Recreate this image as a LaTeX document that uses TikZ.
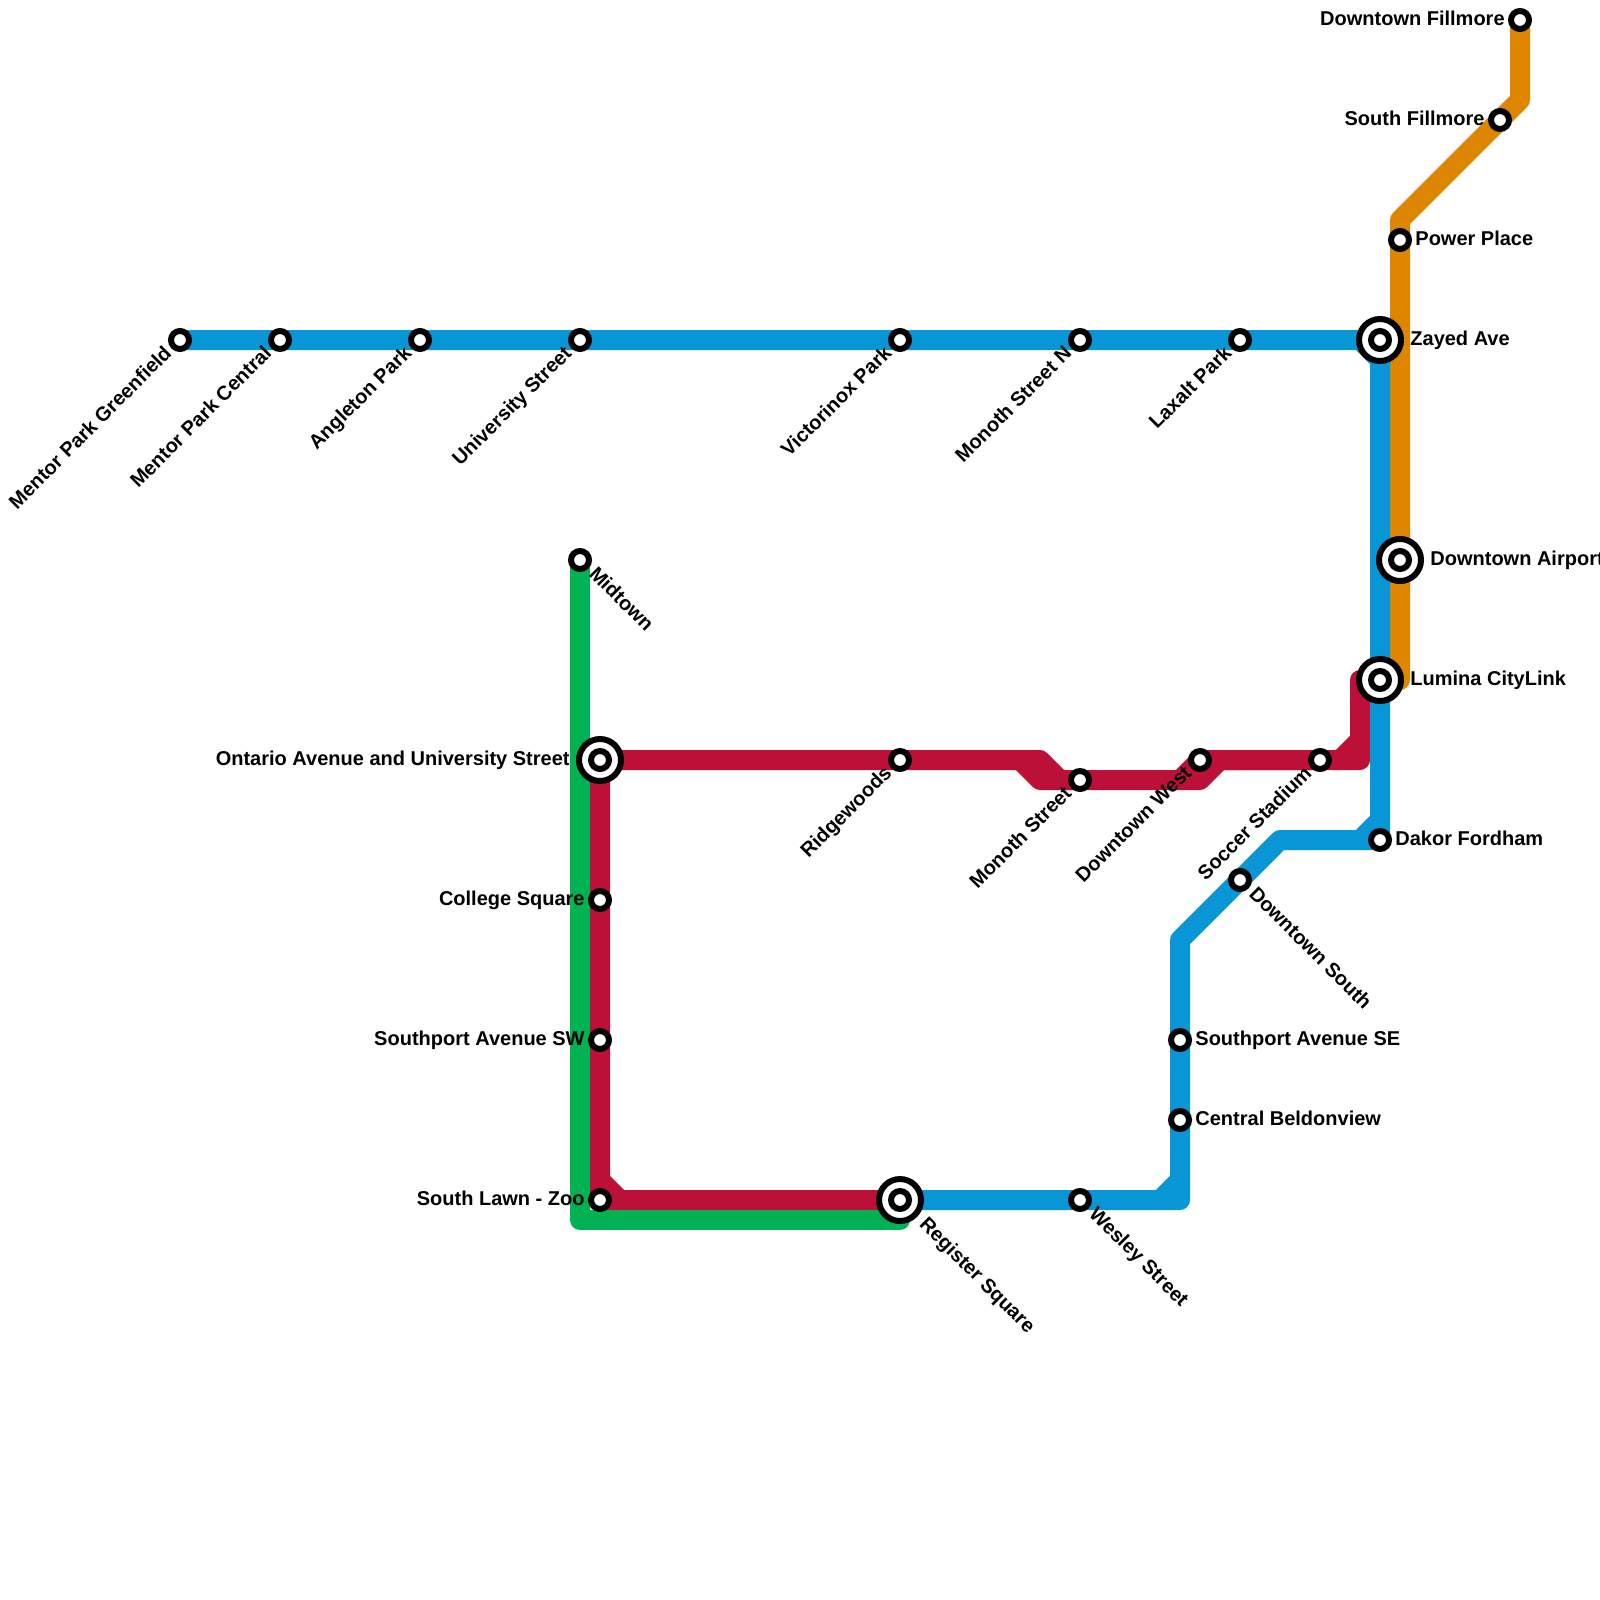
\documentclass[tikz,border=0pt]{standalone}
\usepackage{fontspec}
\setmainfont{Liberation Sans}
\usetikzlibrary{backgrounds}
\definecolor{lineblue}{HTML}{0896D7}
\definecolor{lineorange}{HTML}{DF8600}
\definecolor{linered}{HTML}{BD1038}
\definecolor{linegreen}{HTML}{00B251}
\begin{document}
\begin{tikzpicture}[
  x=0.5pt, y=-0.5pt,
  font=\fontsize{10}{12}\selectfont\bfseries,
  stn/.style={circle, draw, fill=white, line width=3pt, inner sep=0pt, minimum size=9pt},
  hub/.style={stn, minimum size=21pt,
    path picture={\draw[line width=3pt] (path picture bounding box.center) circle (4.5pt);}},
  route/.style={line width=10pt, line join=round, line cap=round},
  lblw/.style={inner sep=0pt, anchor=base east, xshift=-#1, yshift=-2.6pt},
  lble/.style={inner sep=0pt, anchor=base west, xshift=#1, yshift=-2.6pt},
  lblsw/.style={inner sep=0pt, rotate=45, anchor=base east, xshift=-#1, yshift=-2.5pt},
  lblse/.style={inner sep=0pt, rotate=-45, anchor=base west, xshift=#1, yshift=-2.5pt},
  lblw/.default=7.5pt, lble/.default=7.5pt, lblsw/.default=7.5pt, lblse/.default=8pt
]
  \useasboundingbox (0,0) rectangle (1600,1600);

  % Top row
  \node[stn] (mentorg) at (180,340) {};
  \node[stn] (mentorc) at (280,340) {};
  \node[stn] (angleton) at (420,340) {};
  \node[stn] (univ) at (580,340) {};
  \node[stn] (victor) at (900,340) {};
  \node[stn] (monothn) at (1080,340) {};
  \node[stn] (laxalt) at (1240,340) {};
  \node[hub] (zayed) at (1380,340) {};

  % Orange end
  \node[stn] (dtfillmore) at (1520,20) {};
  \node[stn] (sfillmore) at (1500,120) {};
  \node[stn] (power) at (1400,240) {};
  \node[hub] (dtairport) at (1400,560) {};

  % Right column
  \node[hub] (lumina) at (1380,680) {};
  \node[stn] (dakor) at (1380,840) {};
  \node[stn] (dtsouth) at (1240,880) {};
  \node[stn] (spse) at (1180,1040) {};
  \node[stn] (beldon) at (1180,1120) {};
  \node[stn] (wesley) at (1080,1200) {};
  \node[hub] (register) at (900,1200) {};

  % Red row
  \node[hub] (ontario) at (600,760) {};
  \node[stn] (ridge) at (900,760) {};
  \node[stn] (monoth) at (1080,780) {};
  \node[stn] (dtwest) at (1200,760) {};
  \node[stn] (soccer) at (1320,760) {};

  % Left column
  \node[stn] (midtown) at (580,560) {};
  \node[stn] (college) at (600,900) {};
  \node[stn] (spsw) at (600,1040) {};
  \node[stn] (lawn) at (600,1200) {};

  % Bends
  \coordinate (o1) at (1520,100);
  \coordinate (o2) at (1400,220);
  \coordinate (o3) at (1400,680);
  \coordinate (g1) at (580,1220);
  \coordinate (g2) at (900,1220);
  \coordinate (r1) at (600,1180);
  \coordinate (r2) at (620,1200);
  \coordinate (r3) at (1020,760);
  \coordinate (r4) at (1040,780);
  \coordinate (r5) at (1040,760);
  \coordinate (r6) at (1060,780);
  \coordinate (r7) at (1180,780);
  \coordinate (r8) at (1200,780);
  \coordinate (r9) at (1220,760);
  \coordinate (r10) at (1340,760);
  \coordinate (r11) at (1360,760);
  \coordinate (r12) at (1360,740);
  \coordinate (r13) at (1360,680);
  \coordinate (b1) at (1360,340);
  \coordinate (b2) at (1380,360);
  \coordinate (b3) at (1380,820);
  \coordinate (b4) at (1360,840);
  \coordinate (b5) at (1280,840);
  \coordinate (b6) at (1180,940);
  \coordinate (b7) at (1180,1180);
  \coordinate (b8) at (1180,1200);
  \coordinate (b9) at (1160,1200);

  \begin{scope}[on background layer]
    \draw[route, linegreen] (midtown.center) -- (g1) -- (g2) -- (register.center);

    \draw[route, linered] (lawn.center) -- (spsw.center) -- (college.center) -- (ontario.center)
      -- (ridge.center) -- (r5) -- (r6) -- (monoth.center) -- (r7) -- (dtwest.center)
      -- (soccer.center) -- (r11) -- (r13) -- (lumina.center);
    \draw[route, linered] (lawn.center) -- (register.center);
    \draw[route, linered] (r1) -- (r2);
    \draw[route, linered] (r3) -- (r4) -- (monoth.center);
    \draw[route, linered] (r7) -- (r8) -- (r9) -- (soccer.center);
    \draw[route, linered] (r10) -- (r12);

    \draw[route, lineorange] (dtfillmore.center) -- (o1) -- (sfillmore.center) -- (o2)
      -- (power.center) -- (dtairport.center) -- (o3);

    \draw[route, lineblue] (mentorg.center) -- (zayed.center) -- (lumina.center) -- (dakor.center)
      -- (b5) -- (dtsouth.center) -- (b6) -- (spse.center) -- (beldon.center) -- (b8)
      -- (wesley.center) -- (register.center);
    \draw[route, lineblue] (b1) -- (b2);
    \draw[route, lineblue] (b3) -- (b4);
    \draw[route, lineblue] (b7) -- (b9);
  \end{scope}

  % Labels
  \node[lblsw] (lmentorg) at (mentorg) {Mentor Park Greenfield};
  \node[lblsw] (lmentorc) at (mentorc) {Mentor Park Central};
  \node[lblsw] (langleton) at (angleton) {Angleton Park};
  \node[lblsw] (luniv) at (univ) {University Street};
  \node[lblsw] (lvictor) at (victor) {Victorinox Park};
  \node[lblsw] (lmonothn) at (monothn) {Monoth Street N};
  \node[lblsw] (llaxalt) at (laxalt) {Laxalt Park};
  \node[lblsw] (lridge) at (ridge) {Ridgewoods};
  \node[lblsw] (lmonoth) at (monoth) {Monoth Street};
  \node[lblsw] (ldtwest) at (dtwest) {Downtown West};
  \node[lblsw] (lsoccer) at (soccer) {Soccer Stadium};

  \node[lblse] (lmidtown) at (midtown) {Midtown};
  \node[lblse] (ldtsouth) at (dtsouth) {Downtown South};
  \node[lblse] (lwesley) at (wesley) {Wesley Street};
  \node[lblse=15.5pt] (lregister) at (register) {Register Square};

  \node[lblw] (ldtfillmore) at (dtfillmore) {Downtown Fillmore};
  \node[lblw] (lsfillmore) at (sfillmore) {South Fillmore};
  \node[lblw=15pt] (lontario) at (ontario) {Ontario Avenue and University Street};
  \node[lblw] (lcollege) at (college) {College Square};
  \node[lblw] (lspsw) at (spsw) {Southport Avenue SW};
  \node[lblw] (llawn) at (lawn) {South Lawn - Zoo};

  \node[lble] (lpower) at (power) {Power Place};
  \node[lble=15pt] (lzayed) at (zayed) {Zayed Ave};
  \node[lble=15pt] (ldtairport) at (dtairport) {Downtown Airport};
  \node[lble=15pt] (llumina) at (lumina) {Lumina CityLink};
  \node[lble] (ldakor) at (dakor) {Dakor Fordham};
  \node[lble] (lspse) at (spse) {Southport Avenue SE};
  \node[lble] (lbeldon) at (beldon) {Central Beldonview};
\end{tikzpicture}
\end{document}
